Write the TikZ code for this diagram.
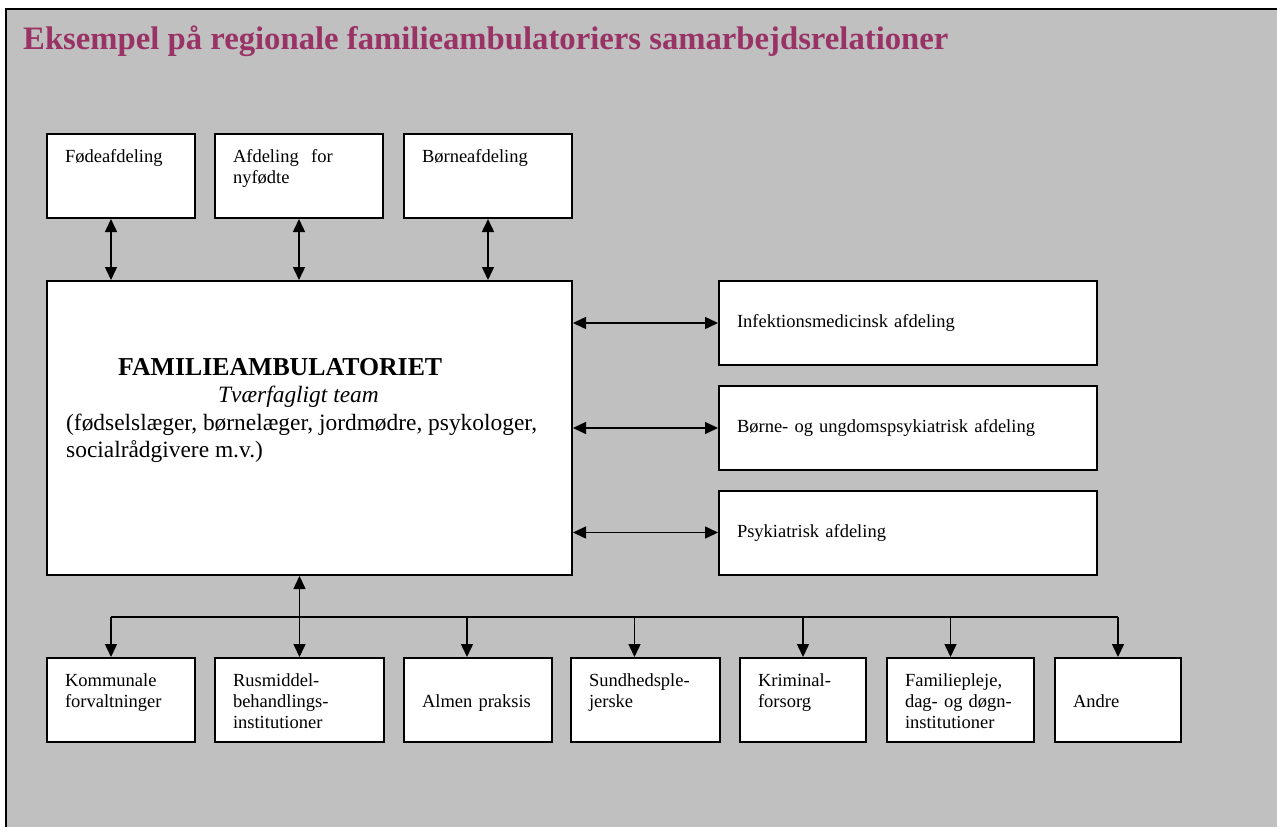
\documentclass[tikz,border=0pt]{standalone}
\usepackage{fontspec}
\setmainfont{Liberation Serif}
\usetikzlibrary{arrows.meta}
\definecolor{panelgray}{RGB}{192,192,192}
\definecolor{titleplum}{RGB}{153,51,102}
\newcommand{\leadrule}{\rule{0pt}{21pt}}
\tikzset{
	unit/.style={draw, fill=white, line width=2pt, minimum height=84pt, inner xsep=18pt, inner ysep=0pt, align=left, font=\fontsize{18.5}{21.3}\selectfont},
	link/.style={line width=1.5pt},
}

\begin{document}
\begin{tikzpicture}[x=1pt, y=-1pt, >={Triangle[length=13pt,width=12pt]}]
			%%%%% START %%%%%
			
			\useasboundingbox (0,0) rectangle (1277,827);
			\fill[white] (0,0) rectangle (1277,827);
			\fill[panelgray] (6,9) rectangle (1277,827);
			\draw[line width=2.5pt] (6,827) -- (6,9) -- (1277,9);
			
			\node[anchor=base west, inner sep=0pt, text=titleplum, font=\fontsize{32.7}{36}\selectfont\bfseries] (title) at (23,49) {Eksempel på regionale familieambulatoriers samarbejdsrelationer};
			
			\node[unit, text width=112pt] (fode) at (121,176) {\leadrule Fødeafdeling\\\strut\\\strut};
			\node[unit, text width=132pt] (nyfodte) at (299,176) {\leadrule Afdeling\ \ for\\nyfødte\\\strut};
			\node[unit, text width=132pt] (borne) at (488,176) {\leadrule Børneafdeling\\\strut\\\strut};
			
			\node[unit, minimum width=525pt, minimum height=294pt] (fam) at (309.5,428) {};
			\node[anchor=north west, inner sep=0pt, align=left, font=\fontsize{23.4}{27.5}\selectfont] (famtext) at ([shift={(20pt,-78pt)}]fam.north west) {\hspace*{52pt}{\fontsize{25.8}{27.5}\selectfont\bfseries FAMILIEAMBULATORIET}\\\hspace*{152pt}\textit{Tværfagligt team}\\(fødselslæger, børnelæger, jordmødre, psykologer,\\socialrådgivere m.v.)};
			
			\draw[link, <->] ([xshift=-10pt]fode.south) -- ([xshift=-10pt]fode.south |- fam.north);
			\draw[link, <->] (nyfodte.south) -- (nyfodte.south |- fam.north);
			\draw[link, <->] (borne.south) -- (borne.south |- fam.north);
			
			\node[unit, text width=342pt] (infek) at (908,323) {Infektionsmedicinsk afdeling};
			\node[unit, text width=342pt] (bupsyk) at (908,428) {Børne- og ungdomspsykiatrisk afdeling};
			\node[unit, text width=342pt] (psyk) at (908,532.5) {Psykiatrisk afdeling};
			
			\draw[link, <->] (fam.east |- infek.west) -- (infek.west);
			\draw[link, <->] (fam.east |- bupsyk.west) -- (bupsyk.west);
			\draw[link, <->] (fam.east |- psyk.west) -- (psyk.west);
			
			\node[unit, text width=112pt] (komm) at (121,700) {\leadrule Kommunale\\forvaltninger\\\strut};
			\node[unit, text width=133pt] (rus) at (299.5,700) {\leadrule Rusmiddel-\\behandlings-\\institutioner\strut};
			\node[unit, text width=112pt] (almen) at (478,700) {\leadrule\\Almen praksis\\\strut};
			\node[unit, text width=113pt] (sund) at (645.5,700) {\leadrule Sundhedsple-\\jerske\\\strut};
			\node[unit, text width=90pt] (krim) at (803,700) {\leadrule Kriminal-\\forsorg\\\strut};
			\node[unit, text width=111pt] (famil) at (960.5,700) {\leadrule Familiepleje,\\dag- og døgn-\\institutioner\strut};
			\node[unit, text width=90pt] (andre) at (1118,700) {\leadrule\\Andre\\\strut};
			
			\coordinate (bus) at (299.5,617);
			\draw[link, <->] (rus.north |- fam.south) -- (rus.north);
			\draw[link] ([xshift=-10pt]komm.north |- bus) -- (andre.north |- bus);
			\draw[link, ->] ([xshift=-10pt]komm.north |- bus) -- ([xshift=-10pt]komm.north);
			\draw[link, ->] ([xshift=-11pt]almen.north |- bus) -- ([xshift=-11pt]almen.north);
			\draw[link, ->] ([xshift=-11pt]sund.north |- bus) -- ([xshift=-11pt]sund.north);
			\draw[link, ->] (krim.north |- bus) -- (krim.north);
			\draw[link, ->] ([xshift=-10pt]famil.north |- bus) -- ([xshift=-10pt]famil.north);
			\draw[link, ->] (andre.north |- bus) -- (andre.north);
			
			%%%%% END %%%%%
\end{tikzpicture}
\end{document}
